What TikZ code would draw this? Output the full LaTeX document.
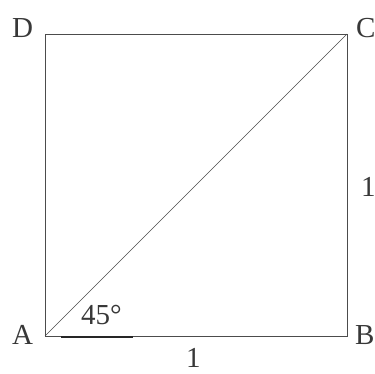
\documentclass[tikz,border=0pt]{standalone}
\usepackage{fontspec}
\setmainfont{Liberation Serif}
\begin{document}
\begin{tikzpicture}[x=1pt,y=-1pt,
  lbl/.style={inner sep=0pt,anchor=base west,text=black!78,font=\fontsize{29}{31}\selectfont},
  edge/.style={draw=black!70,line width=0.8pt},
  anglebar/.style={draw=black!85,line width=2pt}]
\useasboundingbox (0,0) rectangle (375,374);
\clip (0,0) rectangle (375,374);
\coordinate (A) at (45,336);
\coordinate (B) at (347,336);
\coordinate (C) at (347,34);
\coordinate (D) at (45,34);
\coordinate (m1) at (61,337);
\coordinate (m2) at (133,337);
\draw[edge] (A) -- (B) -- (C) -- (D) -- cycle;
\draw[edge,line width=0.6pt] (A) -- (C);
\draw[anglebar] (m1) -- (m2);
\node[lbl] (lD) at (12,38) {D};
\node[lbl] (lC) at (356,38) {C};
\node[lbl] (lA) at (12,344) {A};
\node[lbl] (lB) at (355,344) {B};
\node[lbl] (l45) at (81,324) {45°};
\node[lbl] (lr) at (361,197) {1};
\node[lbl] (lb) at (186,367) {1};
\end{tikzpicture}
\end{document}
